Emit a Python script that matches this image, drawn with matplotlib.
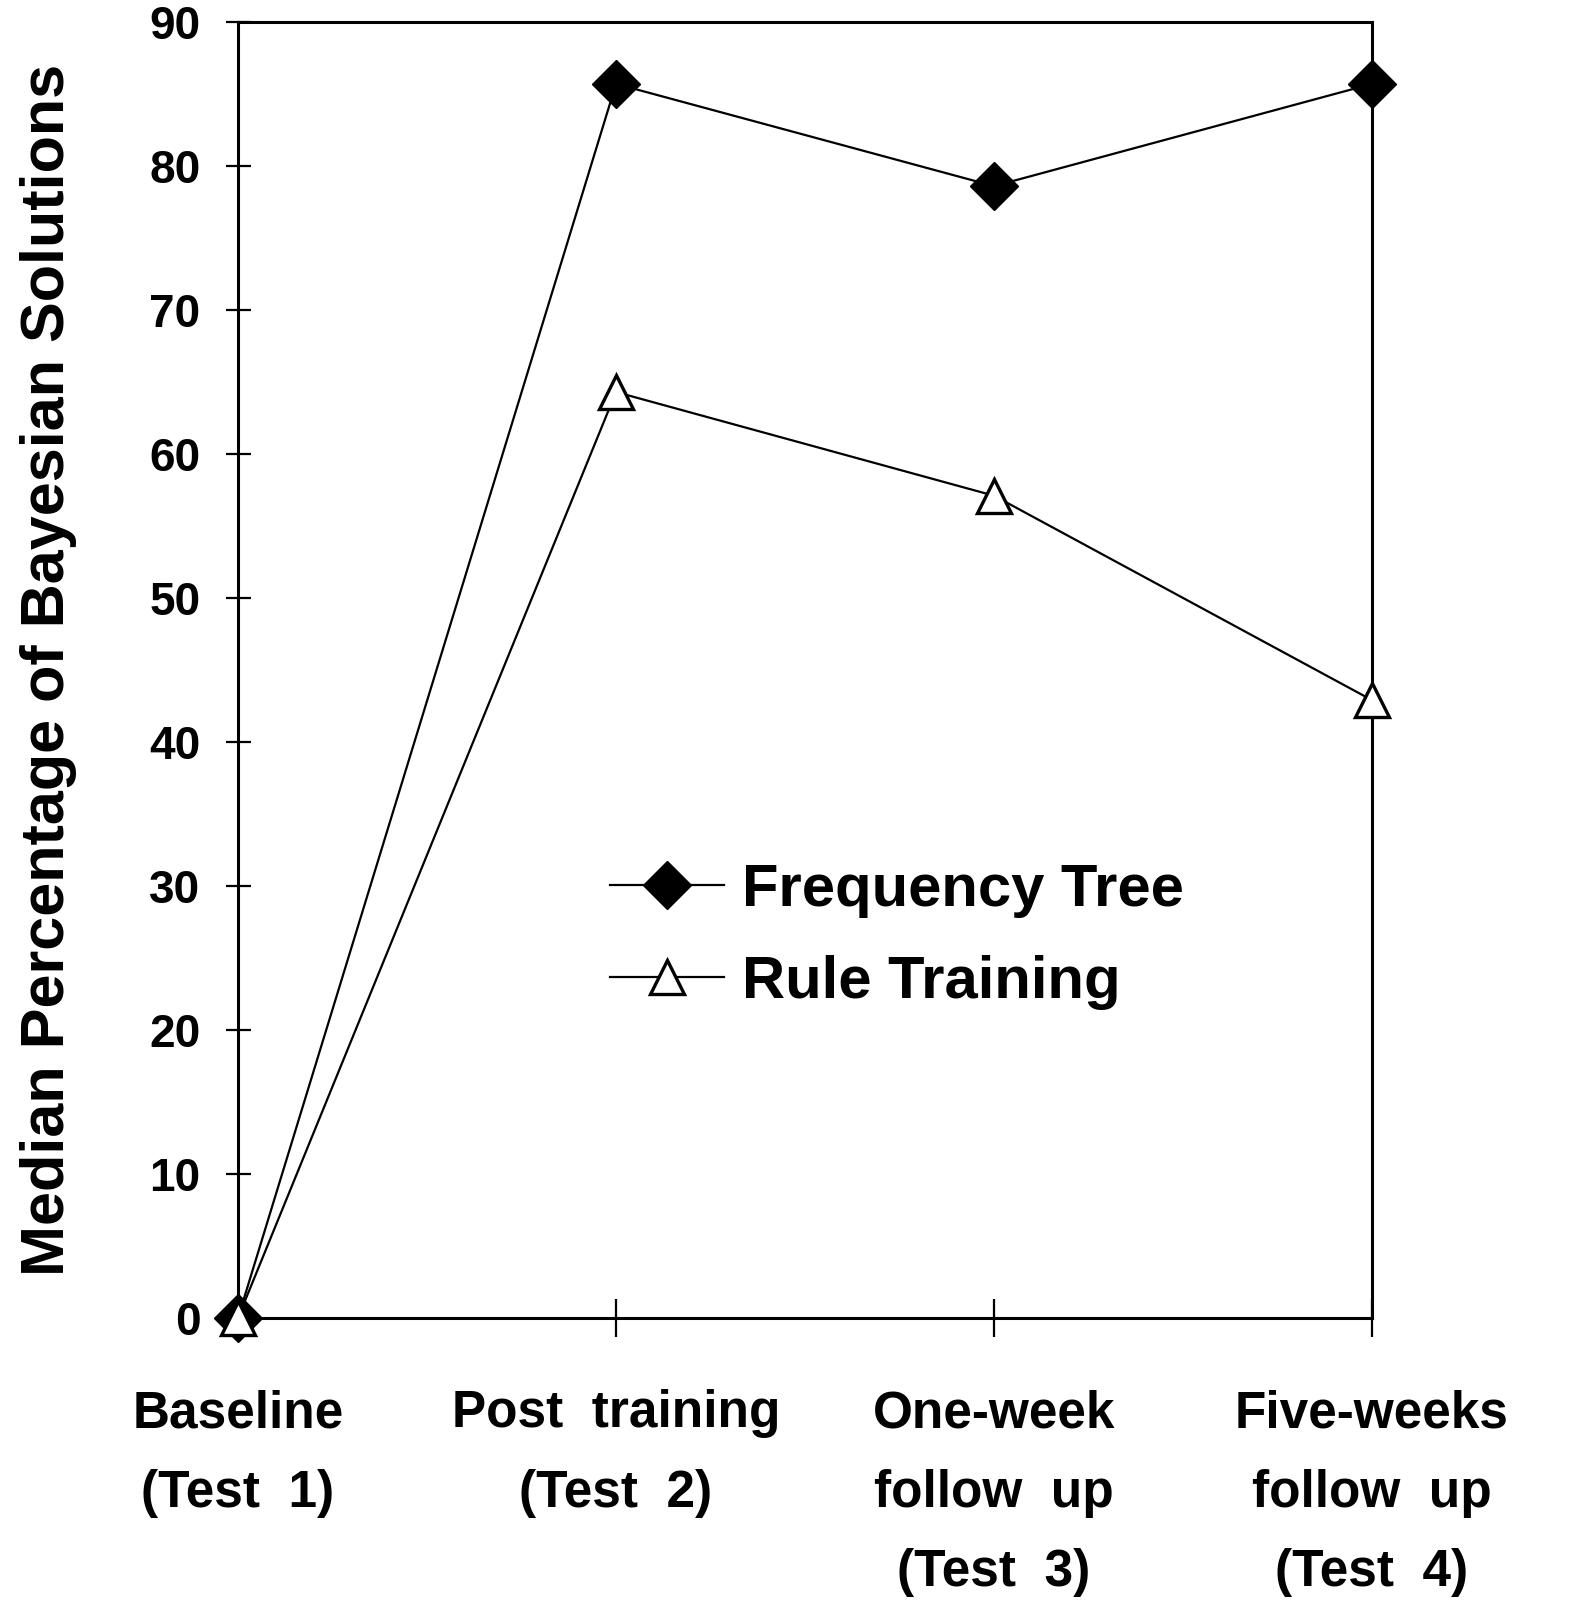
import numpy as np
import matplotlib; matplotlib.use("Agg")
import matplotlib.pyplot as plt
from matplotlib import font_manager as fm

# data
tests = ["Baseline\n(Test  1)", "Post  training\n(Test  2)",
         "One-week\nfollow  up\n(Test  3)", "Five-weeks\nfollow  up\n(Test  4)"]
freq_tree = [0, 85.7, 78.6, 85.7]
rule_training = [0, 64.3, 57.1, 42.9]
yticks = [0, 10, 20, 30, 40, 50, 60, 70, 80, 90]

names = {f.name for f in fm.fontManager.ttflist}
narrow = "Liberation Sans Narrow" if "Liberation Sans Narrow" in names else "Liberation Sans"
plt.rcParams["font.family"] = ["Liberation Sans", "DejaVu Sans"]

fig = plt.figure(figsize=(15.72, 16.02), dpi=100)
ax = fig.add_axes([0.1514, 0.1773, 0.7214, 0.809])
x = np.arange(len(tests))

ax.plot(x, freq_tree, color="black", lw=1.6, marker="D", ms=24,
        mfc="black", mec="black", label="Frequency Tree", zorder=3, clip_on=False)
ax.plot(x, rule_training, color="black", lw=1.6, marker="^", ms=24,
        mfc="white", mec="black", mew=2.4, label="Rule Training", zorder=4, clip_on=False)

ax.set_xlim(0, 3)
ax.set_ylim(0, 90)
ax.set_yticks(yticks)
ax.set_yticklabels([str(v) for v in yticks], fontsize=33, fontweight="bold")
ax.set_xticks(x)
ax.set_xticklabels(tests, fontsize=37, fontweight="bold", linespacing=1.8)
ax.tick_params(axis="y", direction="inout", length=18, width=1.6, pad=18)
ax.tick_params(axis="x", direction="inout", length=27, width=1.6, pad=38)
for s in ax.spines.values():
    s.set_linewidth(2.2)

ax.set_ylabel("Median Percentage of Bayesian Solutions", fontsize=44,
              fontweight="bold", family=narrow, labelpad=52)

leg = ax.legend(loc="upper left", bbox_to_anchor=(0.302, 0.374), frameon=False,
                fontsize=43, numpoints=1, handlelength=1.9, handletextpad=0.3,
                labelspacing=0.62, borderpad=0)
for t in leg.get_texts():
    t.set_fontweight("bold")

fig.savefig("out.png", dpi=100, facecolor="white")
